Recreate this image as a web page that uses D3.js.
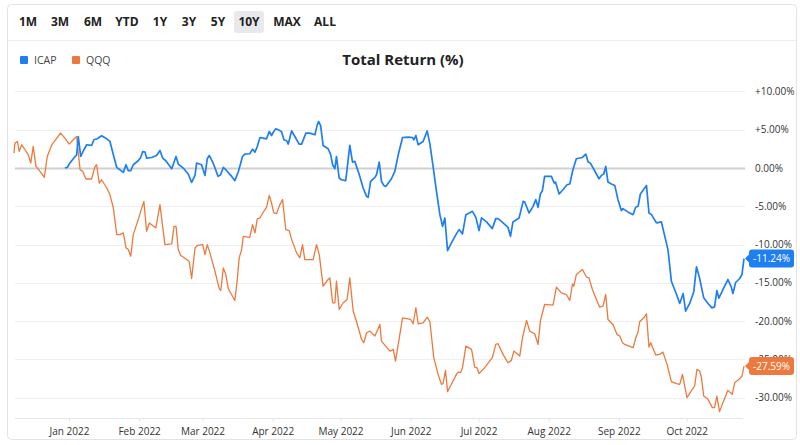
<!DOCTYPE html>
<html>
<head>
<meta charset="utf-8">
<script src="https://cdn.jsdelivr.net/npm/d3@7"></script>
<style>
  body { margin: 0; background: #fff; font-family: "Open Sans", "Noto Sans", sans-serif; }
</style>
</head>
<body>
<div id="chart"></div>
<script>
// time range buttons
const rangeButtons = ["1M", "3M", "6M", "YTD", "1Y", "3Y", "5Y", "10Y", "MAX", "ALL"];
const activeButton = "10Y";

const seriesNames = ["ICAP", "QQQ"];
const seriesColors = ["#1f7ff0", "#ec7a3e"];
const lastLabels = ["-11.24%", "-27.59%"];

const yTicks = [10, 5, 0, -5, -10, -15, -20, -25, -30];

// days counted from 1 Jan 2022, returns in %
const icapDays = [-1.8, -0.8, 0.4, 2.7, 3.4, 4.1, 5.2, 6.6, 7.8, 10.0, 11.0, 12.5, 14.4, 16.7, 18.1, 19.6, 21.1, 24.0, 25.2, 26.2,
  27.3, 28.4, 30.6, 31.7, 32.6, 33.6, 34.3, 36.5, 38.7, 40.2, 41.4, 42.8, 45.4, 47.3, 48.3, 50.5, 52.7, 54.2, 55.7, 56.4,
  58.6, 60.1, 61.1, 62.0, 63.7, 65.9, 67.0, 68.2, 69.7, 71.9, 73.3, 74.8, 76.7, 77.7, 79.9, 81.1, 82.2, 83.2, 84.4, 85.8,
  87.3, 88.5, 89.5, 90.5, 91.4, 92.4, 93.9, 95.0, 96.2, 96.9, 98.4, 99.8, 101.7, 102.8, 104.7, 106.4, 108.7, 109.7, 110.3, 111.2,
  112.3, 114.5, 115.6, 116.5, 117.5, 118.2, 119.4, 120.4, 122.3, 124.1, 125.3, 126.3, 128.2, 130.0, 131.5, 132.2, 133.3, 135.2, 135.9, 137.1,
  138.1, 139.1, 140.0, 142.5, 144.0, 145.5, 147.4, 149.9, 151.8, 152.4, 153.3, 154.3, 156.5, 158.3, 159.5, 160.9, 162.4, 163.9, 165.1, 166.1,
  167.3, 169.0, 171.2, 172.4, 173.9, 175.4, 178.3, 179.8, 181.2, 182.3, 184.5, 187.1, 188.6, 189.6, 191.1, 194.0, 195.1, 196.2, 198.9, 200.7,
  201.4, 203.3, 205.1, 206.3, 207.3, 208.3, 209.2, 210.2, 213.2, 214.4, 215.0, 216.6, 218.3, 220.1, 221.3, 222.7, 224.2, 226.9, 228.4, 229.4,
  230.4, 232.3, 234.2, 235.3, 236.3, 237.2, 238.2, 239.7, 241.2, 242.6, 244.1, 244.8, 247.0, 249.3, 250.4, 251.5, 252.5, 255.2, 256.3, 257.4,
  259.6, 261.8, 263.3, 264.7, 266.2, 268.5, 269.9, 271.4, 272.5, 274.3, 276.1, 277.3, 278.7, 280.5, 282.4, 284.1, 285.3, 286.3, 287.2, 289.3,
  291.2, 292.7, 293.4, 294.6, 296.4, 297.4, 298.3];
const icapValues = [0, 0.08, 0.65, 1.51, 1.73, 4.12, 1.51, 2.39, 3.04, 2.95, 3.69, 3.82, 4.21, 3.82, 3.47, 1.73, 0.08, -0.57, 0.43, -0.35,
  -0.35, 0.43, 0.95, 1.38, 2.16, 2.08, 1.3, 1.38, 1.64, 2.3, 1.3, 0.95, -0.09, 1.51, 0.52, 0, -0.78, -1.87, -0.96, 0.65,
  0.43, -0.96, 1.21, 1.64, 0.65, -1.09, -0.87, 0.08, -0.35, -1.09, -1.65, -0.52, 1.51, 1.82, 1.87, 2.47, 2.08, 2.82, 3.99, 3.91,
  3.82, 4.77, 4.25, 4.77, 5.12, 4.99, 4.77, 3.69, 3.56, 3.13, 4.86, 4.12, 3.13, 3.13, 4.56, 4.56, 4.34, 5.64, 6.08, 5.55,
  2.95, 2.52, 1.82, 0.43, -0.09, 1.51, -1.3, -1.53, -1.65, 2.95, 0.78, 0.87, -0.78, -2.61, -3.7, -3.83, -1.75, -1.22, -0.87, 0.78,
  -1.75, -2.27, -2.4, -1.4, -0.44, 1.73, 3.99, 4.04, 3.99, 3.69, 4.25, 3.04, 3.47, 4.86, 3.13, 0.21, -3.05, -6.09, -7.61, -6.52,
  -10.78, -9.78, -8.6, -8.04, -8.6, -6.09, -5.65, -6.44, -8.17, -6.52, -7.04, -7.91, -6.61, -6.61, -6.96, -7.74, -8.92, -7.04, -6.52, -4.35,
  -4.43, -5.87, -5.0, -4.13, -5.13, -3.39, -2.96, -1.09, -1.09, -1.96, -1.83, -3.39, -2.83, -2.18, -2.09, -0.22, 1.21, 1.38, 1.82, 0.78,
  0.65, -0.35, -1.4, -0.96, -0.78, 0.21, -1.83, -2.09, -2.27, -4.13, -5.56, -5.3, -5.73, -6.09, -5.13, -5.0, -3.39, -2.27, -5.87, -6.09,
  -7.17, -7.04, -8.92, -10.65, -14.78, -16.52, -17.69, -16.39, -18.7, -17.69, -16.17, -12.9, -14.43, -16.95, -17.69, -18.27, -18.14, -16, -17, -15.69,
  -14.56, -15.56, -16.39, -14.95, -14.43, -13.91, -11.82];

const qqqDays = [-24.3, -23.9, -22.8, -22.0, -20.9, -19.4, -18.0, -16.9, -15.8, -14.6, -12.8, -10.9, -9.6, -7.6, -5.4, -3.7, -1.8, 0.1, 1.9, 3.4,
  4.9, 6.1, 7.5, 10.0, 11.5, 12.2, 13.4, 14.4, 16.7, 18.1, 19.6, 21.1, 22.5, 24.0, 25.2, 26.2, 27.3, 28.4, 30.6, 33.1,
  34.3, 35.5, 38.4, 40.2, 42.4, 45.4, 46.4, 47.3, 48.3, 49.3, 53.1, 54.2, 55.7, 56.8, 59.1, 60.1, 61.1, 62.3, 64.5, 66.4,
  67.1, 68.2, 69.3, 70.4, 72.6, 73.3, 74.3, 75.2, 76.3, 77.0, 79.9, 81.1, 82.2, 83.2, 84.4, 86.1, 87.3, 88.5, 89.5, 90.5,
  91.7, 93.2, 94.4, 95.8, 97.3, 98.4, 100.6, 102.0, 103.2, 104.2, 107.9, 109.4, 110.6, 112.3, 114.5, 115.3, 116.5, 117.5, 118.2, 119.4,
  121.2, 122.9, 124.1, 125.6, 127.1, 129.3, 130.3, 131.5, 133.0, 135.2, 137.4, 138.1, 141.8, 143.3, 144.3, 145.5, 147.4, 151.0, 152.1, 153.3,
  154.3, 156.5, 158.3, 159.5, 161.2, 163.1, 164.6, 165.3, 166.4, 167.3, 169.0, 171.2, 172.0, 173.0, 173.9, 175.4, 177.9, 179.3, 180.3, 181.2,
  183.7, 187.1, 188.6, 189.6, 191.8, 194.0, 195.5, 196.6, 199.2, 200.4, 202.2, 203.6, 205.8, 207.3, 208.3, 210.2, 213.9, 215.4, 217.6, 219.8,
  221.3, 222.5, 223.1, 224.2, 226.9, 228.7, 229.8, 231.3, 233.1, 234.5, 236.0, 237.2, 238.2, 240.4, 242.2, 243.4, 244.6, 245.6, 249.3, 250.5,
  251.5, 252.2, 254.0, 255.2, 256.3, 257.1, 259.3, 261.0, 262.5, 264.3, 266.2, 268.5, 269.9, 271.1, 273.1, 275.0, 276.5, 277.5, 278.7, 279.5,
  280.5, 282.4, 284.3, 285.3, 286.3, 287.5, 289.0, 291.2, 293.1, 294.2, 296.1, 297.4, 298.3];
const qqqValues = [1.96, 3.26, 3.47, 2.16, 3.04, 2.39, 1.73, 0.65, 2.82, 0.21, -0.44, -1.22, 1.51, 3.04, 3.91, 4.56, 3.91, 3.13, 3.69, 4.12,
  -0.22, -0.44, -1.43, -1.43, 0.21, 0.43, -1.96, -1.53, -2.61, -3.48, -5.22, -8.7, -8.7, -8.47, -10.43, -10.65, -11.52, -8.7, -6.74, -4.35,
  -8.26, -7.17, -7.82, -4.78, -10, -9.91, -7.61, -7.61, -10.65, -11.39, -12.17, -14.43, -10.43, -10.09, -10, -11.3, -10, -11.08, -13.48, -15.74,
  -16, -13.04, -13.91, -15.74, -16.95, -17.3, -14.78, -11.73, -10.65, -8.92, -9.05, -7.39, -8.47, -6.65, -6.52, -5.65, -5.13, -3.57, -4.56, -5.87,
  -5.96, -4.78, -4.13, -8.04, -8.17, -9.35, -11.08, -11.73, -10, -11.95, -11.95, -10, -11.3, -15.43, -14.56, -14.34, -17.6, -17.6, -14.78, -18.47,
  -17.6, -17.17, -14.34, -18.7, -20.08, -22.39, -22.82, -21.51, -21.3, -21.95, -20.43, -22.6, -23.91, -23.69, -25.21, -23.04, -19.56, -19.78, -20.34, -18.25,
  -20.34, -20.21, -19.47, -20.08, -24.77, -26.95, -28.25, -28.17, -26.43, -29.2, -28.25, -26.95, -26.65, -26.73, -26.08, -23.26, -23.69, -26, -26.08, -26.86,
  -26.08, -24.77, -23.04, -22.95, -24.34, -25.43, -25.12, -23.91, -24.56, -22.17, -19.91, -21.3, -21.64, -23.04, -20, -17.82, -17.91, -15.56, -16.3, -16.52,
  -17.3, -15.12, -15.43, -13.91, -13.26, -14.26, -14.34, -15.87, -17.17, -18.17, -18.04, -16.52, -19.78, -20.43, -21.73, -21.95, -22.82, -23.04, -23.47, -22.17,
  -21.38, -20.08, -19.56, -19.04, -23.39, -22.82, -24.43, -24.34, -24.04, -25.64, -27.9, -28.17, -28.25, -26.95, -29.99, -29.12, -28.47, -26.3, -26.51, -27.38,
  -29.78, -30.21, -31.3, -31.3, -29.78, -31.82, -30.64, -29.04, -29.56, -28.04, -27.6, -27.17, -25.87];

const W = 800, H = 445;
const base = new Date(2022, 0, 1).getTime();
const toDate = d => new Date(base + d * 86400000);

const series = [
  icapDays.map((d, i) => ({ date: toDate(d), value: icapValues[i] })),
  qqqDays.map((d, i) => ({ date: toDate(d), value: qqqValues[i] }))
];

let svg = d3.select("#chart").append("svg")
  .attr("width", W)
  .attr("height", H)
  .style("display", "block");

// card outline
svg.append("rect")
  .attr("x", 7.5).attr("y", 4.5)
  .attr("width", 789).attr("height", 435)
  .attr("rx", 4)
  .attr("fill", "#fff")
  .attr("stroke", "#e3e3e3");

svg.append("line")
  .attr("x1", 8).attr("x2", 796)
  .attr("y1", 40.5).attr("y2", 40.5)
  .attr("stroke", "#ececec");

// buttons
const btnX = [28, 60, 93, 127, 160, 189, 218, 249, 287, 325];
let btn = svg.append("g").selectAll("g")
  .data(rangeButtons)
  .enter().append("g")
  .attr("transform", (d, i) => "translate(" + btnX[i] + ",22)");

btn.filter(d => d === activeButton).append("rect")
  .attr("x", -15).attr("y", -11)
  .attr("width", 30).attr("height", 22)
  .attr("rx", 3)
  .attr("fill", "#e8e9ec");

btn.append("text")
  .attr("text-anchor", "middle")
  .attr("dy", "0.36em")
  .attr("font-size", 12)
  .attr("font-weight", 700)
  .attr("fill", "#222")
  .text(d => d);

// legend
let legend = svg.append("g").selectAll("g")
  .data(seriesNames)
  .enter().append("g")
  .attr("transform", (d, i) => "translate(" + (20 + i * 52) + ",60)");
legend.append("rect")
  .attr("x", 0).attr("y", -4)
  .attr("width", 8).attr("height", 8)
  .attr("rx", 1)
  .attr("fill", (d, i) => seriesColors[i]);
legend.append("text")
  .attr("x", 14)
  .attr("dy", "0.35em")
  .attr("font-size", 10.5)
  .attr("fill", "#444")
  .text(d => d);

svg.append("text")
  .attr("x", 403).attr("y", 60)
  .attr("dy", "0.35em")
  .attr("text-anchor", "middle")
  .attr("font-size", 15)
  .attr("font-weight", 700)
  .attr("fill", "#222")
  .text("Total Return (%)");

// scales
const allDays = icapDays.concat(qqqDays);
let x = d3.scaleTime()
  .domain([toDate(d3.min(allDays)), toDate(d3.max(allDays))])
  .range([14, 744]);
let y = d3.scaleLinear().domain([-32.65, 11.5]).range([418, 80]);

// grid + y labels
const fmt = v => (v > 0 ? "+" : "") + v.toFixed(2) + "%";
let grid = svg.append("g");
grid.selectAll("line")
  .data(yTicks)
  .enter().append("line")
  .attr("x1", 15).attr("x2", 745)
  .attr("y1", d => Math.round(y(d)) + 0.5)
  .attr("y2", d => Math.round(y(d)) + 0.5)
  .attr("stroke", d => d === 0 ? "#d0d0d0" : "#efefef")
  .attr("stroke-width", d => d === 0 ? 2 : 1);
grid.selectAll("text")
  .data(yTicks)
  .enter().append("text")
  .attr("x", 755)
  .attr("y", d => y(d))
  .attr("dy", "0.35em")
  .attr("font-size", 10)
  .attr("fill", "#333")
  .text(fmt);

// x axis
let xAxis = svg.append("g")
  .attr("transform", "translate(0,418)")
  .call(d3.axisBottom(x)
    .ticks(d3.timeMonth.every(1))
    .tickFormat(d3.timeFormat("%b %Y"))
    .tickSize(4)
    .tickPadding(6));
xAxis.select(".domain").attr("stroke", "#e6e6ee").attr("d", "M15,0.5H743");
xAxis.selectAll(".tick line").attr("stroke", "#e6e6ee");
xAxis.selectAll(".tick text")
  .attr("font-size", 10)
  .attr("font-family", "Open Sans, Noto Sans, sans-serif")
  .attr("fill", "#333");

// lines
let line = d3.line()
  .x(d => x(d.date))
  .y(d => y(d.value));

svg.append("g").selectAll("path")
  .data(series.slice().reverse())
  .enter().append("path")
  .attr("d", line)
  .attr("fill", "none")
  .attr("stroke", (d, i) => seriesColors[1 - i])
  .attr("stroke-width", (d, i) => i === 0 ? 1.3 : 1.7)
  .attr("stroke-linejoin", "round");

// last value tags
let tags = svg.append("g").selectAll("g")
  .data(series)
  .enter().append("g")
  .attr("transform", d => "translate(748," + y(d[d.length - 1].value) + ")");
tags.append("path")
  .attr("d", "M-3,0L2,-5L2,5Z")
  .attr("fill", (d, i) => seriesColors[i]);
tags.append("rect")
  .attr("x", 1).attr("y", -9)
  .attr("width", 45).attr("height", 18)
  .attr("rx", 3)
  .attr("fill", (d, i) => seriesColors[i]);
tags.append("text")
  .attr("x", 23.5)
  .attr("dy", "0.35em")
  .attr("text-anchor", "middle")
  .attr("font-size", 10)
  .attr("fill", "#fff")
  .text((d, i) => lastLabels[i]);
</script>
</body>
</html>
